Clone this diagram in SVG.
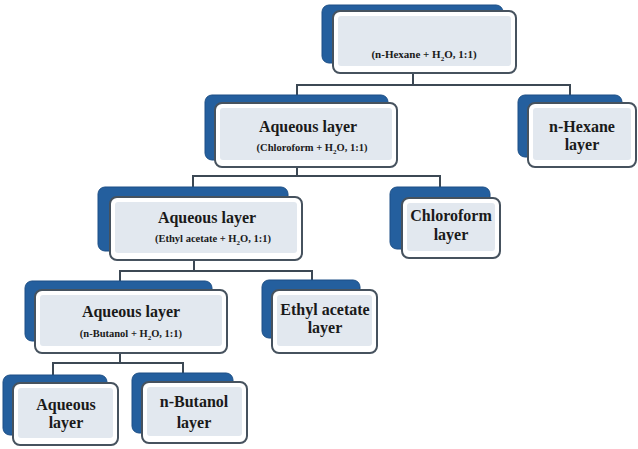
<svg xmlns="http://www.w3.org/2000/svg" width="638" height="449" viewBox="0 0 638 449">
<style>
.back{fill:#245f9e;stroke:#1d4f86;stroke-width:1}
.front{fill:#ffffff;stroke:#46525e;stroke-width:2}
.inner{fill:#e2e8ef}
.t{font-family:"Liberation Serif","Times New Roman",serif;font-weight:bold;font-size:16px;fill:#1a1a1a;text-anchor:middle}
.s{font-family:"Liberation Serif","Times New Roman",serif;font-weight:bold;font-size:10.5px;fill:#1a1a1a;text-anchor:middle}
.sub{font-size:7px}
.c{fill:none;stroke:#3c4854;stroke-width:2}
</style>
<rect width="638" height="449" fill="#ffffff"/>
<g id="connectors">
<polyline class="c" points="413,73 413,85"/>
<polyline class="c" points="297,95 297,85 570,85 570,95"/>
<polyline class="c" points="297,167 297,176"/>
<polyline class="c" points="193,187 193,176 440,176 440,187"/>
<polyline class="c" points="194,260 194,271"/>
<polyline class="c" points="120,281 120,271 312,271 312,280"/>
<polyline class="c" points="120,353 120,363"/>
<polyline class="c" points="53,375 53,363 183,363 183,373"/>
</g>
<g id="n1">
<rect class="back" x="322" y="5" width="181" height="58" rx="7"/>
<rect class="front" x="333" y="11" width="183" height="62" rx="7"/>
<rect class="inner" x="338" y="16" width="173" height="50" rx="3"/>
<text class="s" x="424" y="58" style="font-size:11px">(n-Hexane + H<tspan class="sub" dy="3">2</tspan><tspan dy="-3">O, 1:1)</tspan></text>
</g>
<g id="n2">
<rect class="back" x="205" y="95" width="183" height="65" rx="7"/>
<rect class="front" x="215" y="103" width="182" height="64" rx="7"/>
<rect class="inner" x="220" y="108" width="172" height="52" rx="3"/>
<text class="t" x="308" y="132">Aqueous layer</text>
<text class="s" x="312" y="151">(Chloroform + H<tspan class="sub" dy="3">2</tspan><tspan dy="-3">O, 1:1)</tspan></text>
</g>
<g id="n3">
<rect class="back" x="518" y="95" width="104" height="62" rx="7"/>
<rect class="front" x="528" y="103" width="108" height="64" rx="7"/>
<rect class="inner" x="533" y="108" width="98" height="52" rx="3"/>
<text class="t" x="582" y="132">n-Hexane</text>
<text class="t" x="582" y="150">layer</text>
</g>
<g id="n4">
<rect class="back" x="98" y="187" width="190" height="64" rx="7"/>
<rect class="front" x="110" y="197" width="192" height="63" rx="7"/>
<rect class="inner" x="115" y="202" width="182" height="51" rx="3"/>
<text class="t" x="207" y="223">Aqueous layer</text>
<text class="s" x="213" y="242">(Ethyl acetate + H<tspan class="sub" dy="3">2</tspan><tspan dy="-3">O, 1:1)</tspan></text>
</g>
<g id="n5">
<rect class="back" x="390" y="187" width="100" height="62" rx="7"/>
<rect class="front" x="402" y="198" width="98" height="60" rx="7"/>
<rect class="inner" x="407" y="203" width="88" height="48" rx="3"/>
<text class="t" x="451" y="221">Chloroform</text>
<text class="t" x="451" y="240">layer</text>
</g>
<g id="n6">
<rect class="back" x="25" y="281" width="187" height="60" rx="7"/>
<rect class="front" x="35" y="290" width="192" height="63" rx="7"/>
<rect class="inner" x="40" y="295" width="182" height="51" rx="3"/>
<text class="t" x="131" y="317">Aqueous layer</text>
<text class="s" x="131" y="337">(n-Butanol + H<tspan class="sub" dy="3">2</tspan><tspan dy="-3">O, 1:1)</tspan></text>
</g>
<g id="n7">
<rect class="back" x="262" y="280" width="98" height="58" rx="7"/>
<rect class="front" x="272" y="290" width="105" height="63" rx="7"/>
<rect class="inner" x="277" y="295" width="95" height="51" rx="3"/>
<text class="t" x="325" y="315">Ethyl acetate</text>
<text class="t" x="325" y="333">layer</text>
</g>
<g id="n8">
<rect class="back" x="3" y="375" width="104" height="60" rx="7"/>
<rect class="front" x="13" y="383" width="105" height="62" rx="7"/>
<rect class="inner" x="18" y="388" width="95" height="50" rx="3"/>
<text class="t" x="66" y="410">Aqueous</text>
<text class="t" x="66" y="428">layer</text>
</g>
<g id="n9">
<rect class="back" x="132" y="373" width="101" height="60" rx="7"/>
<rect class="front" x="142" y="382" width="105" height="61" rx="7"/>
<rect class="inner" x="147" y="387" width="95" height="49" rx="3"/>
<text class="t" x="194" y="407">n-Butanol</text>
<text class="t" x="194" y="428">layer</text>
</g>
</svg>
